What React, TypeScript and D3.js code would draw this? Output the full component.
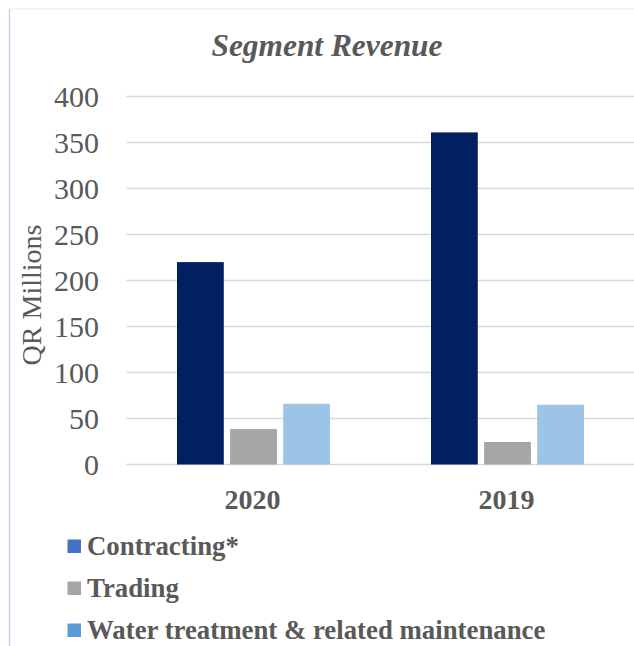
import React from "react";
import * as d3 from "d3";

const categories = ["2020", "2019"];
const seriesNames = ["Contracting*", "Trading", "Water treatment & related maintenance"];
const contracting = [220, 361];
const trading = [38.5, 24.5];
const water = [66, 65];
const yTicks = [0, 50, 100, 150, 200, 250, 300, 350, 400];

const barColors = ["#002060", "#A5A5A5", "#9DC3E6"];
const legendColors = ["#4472C4", "#A5A5A5", "#5B9BD5"];

const W = 634;
const H = 646;
const FONT = "Liberation Serif, serif";
const TEXT = "#595959";

export default function App() {
  const seriesValues = [contracting, trading, water];
  const x = d3.scaleBand<string>().domain(categories).range([126.5, 634.5]).paddingInner(0).paddingOuter(0);
  const groupW = 153;
  const xs = d3
    .scaleBand<string>()
    .domain(seriesNames)
    .range([-groupW / 2, groupW / 2])
    .paddingInner(0.119)
    .paddingOuter(0);
  const y = d3.scaleLinear().domain([0, 400]).range([464.5, 96.5]);

  return (
    <svg
      width={W}
      height={H}
      style={{ position: "absolute", left: 0, top: 0, background: "#fff", fontFamily: FONT }}
    >
      <rect x={0} y={0} width={W} height={H} fill="#fff" />
      {/* chart border */}
      <line x1={9} y1={9} x2={W} y2={9} stroke="#EEF1F9" strokeWidth={1.5} />
      <line x1={9.5} y1={9} x2={9.5} y2={H} stroke="#C5D5F0" strokeWidth={1.5} />

      {/* title */}
      <text
        x={327}
        y={56}
        textAnchor="middle"
        fontSize={31.4}
        fontWeight="bold"
        fontStyle="italic"
        fill={TEXT}
        fontFamily={FONT}
      >
        Segment Revenue
      </text>

      {/* gridlines */}
      {yTicks.map((t) => (
        <line key={"g" + t} x1={126.5} x2={W} y1={y(t)} y2={y(t)} stroke="#D9D9D9" strokeWidth={1.5} />
      ))}

      {/* tick labels */}
      {yTicks.map((t) => (
        <text key={"t" + t} x={99} y={y(t)} dy="0.35em" textAnchor="end" fontSize={30} fill={TEXT} fontFamily={FONT}>
          {t}
        </text>
      ))}

      {/* y axis title */}
      <text
        transform={`translate(41,295) rotate(-90)`}
        textAnchor="middle"
        fontSize={28}
        fill={TEXT}
        fontFamily={FONT}
      >
        QR Millions
      </text>

      {/* bars */}
      {categories.map((c, ci) =>
        seriesNames.map((s, si) => {
          const v = seriesValues[si][ci];
          const cx = (x(c) as number) + x.bandwidth() / 2;
          return (
            <rect
              key={c + s}
              x={cx + (xs(s) as number)}
              y={y(v)}
              width={xs.bandwidth()}
              height={y(0) - y(v)}
              fill={barColors[si]}
            />
          );
        })
      )}

      {/* category labels */}
      {categories.map((c) => (
        <text
          key={"c" + c}
          x={(x(c) as number) + x.bandwidth() / 2 - 1}
          y={509}
          textAnchor="middle"
          fontSize={28}
          fontWeight="bold"
          fill={TEXT}
          fontFamily={FONT}
        >
          {c}
        </text>
      ))}

      {/* legend */}
      {seriesNames.map((s, i) => {
        const top = 539.5 + i * 42;
        return (
          <g key={"l" + s}>
            <rect x={67.5} y={top} width={13.5} height={13.5} fill={legendColors[i]} />
            <text x={87} y={top + 15.5} fontSize={26.8} fontWeight="bold" fill={TEXT} fontFamily={FONT}>
              {s}
            </text>
          </g>
        );
      })}
    </svg>
  );
}
